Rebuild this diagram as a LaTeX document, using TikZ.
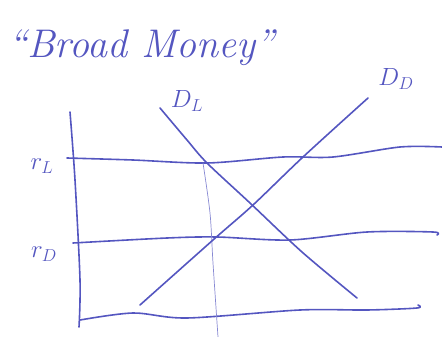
\documentclass[tikz,border=0pt]{standalone}
\usepackage{amsmath}
\usepackage{tikz}
\usetikzlibrary{positioning}
\definecolor{inkblue}{RGB}{84,86,192}

\begin{document}
\begin{tikzpicture}[x=1pt,y=-1pt,
  ink/.style={draw=inkblue,line width=1.6pt,line cap=round,line join=round},
  faint/.style={draw=inkblue!70,line width=0.7pt,line cap=round},
  lbl/.style={text=inkblue,inner sep=0pt,font=\fontsize{24}{28}\selectfont}]
\useasboundingbox (0,0) rectangle (442,337);
% title
\node[text=inkblue,inner sep=0pt,anchor=west,font=\fontsize{40}{46}\selectfont\itshape] (title) at (8,48) {``Broad Money''};
% axes and rate lines
\draw[ink] plot[smooth] coordinates {(70,112) (75,180) (80,280) (79,327)};
\draw[ink] plot[smooth] coordinates {(67,158) (133,160) (207,163) (283,157) (333,157) (400,147) (442,147)};
\draw[ink] plot[smooth] coordinates {(73,243) (167,238) (217,237) (290,240) (367,232) (433,232) (437,235)};
\draw[ink] plot[smooth] coordinates {(80,320) (133,313) (187,318) (300,310) (367,310) (417,308) (418,305)};
\draw[faint] plot[smooth] coordinates {(203,163) (210,213) (213,263) (218,337)};
% demand curves
\draw[ink] plot[smooth] coordinates {(160,108) (187,140) (207,163) (250,203) (302,252) (357,298)};
\draw[ink] plot[smooth] coordinates {(140,305) (213,240) (253,205) (303,157) (368,98)};
% labels
\node[lbl] (rL) at (42,166) {$r_L$};
\node[lbl] (rD) at (44,254) {$r_D$};
\node[lbl] (DL) at (187,101) {$D_L$};
\node[lbl] (DD) at (396,79) {$D_D$};
\end{tikzpicture}
\end{document}
